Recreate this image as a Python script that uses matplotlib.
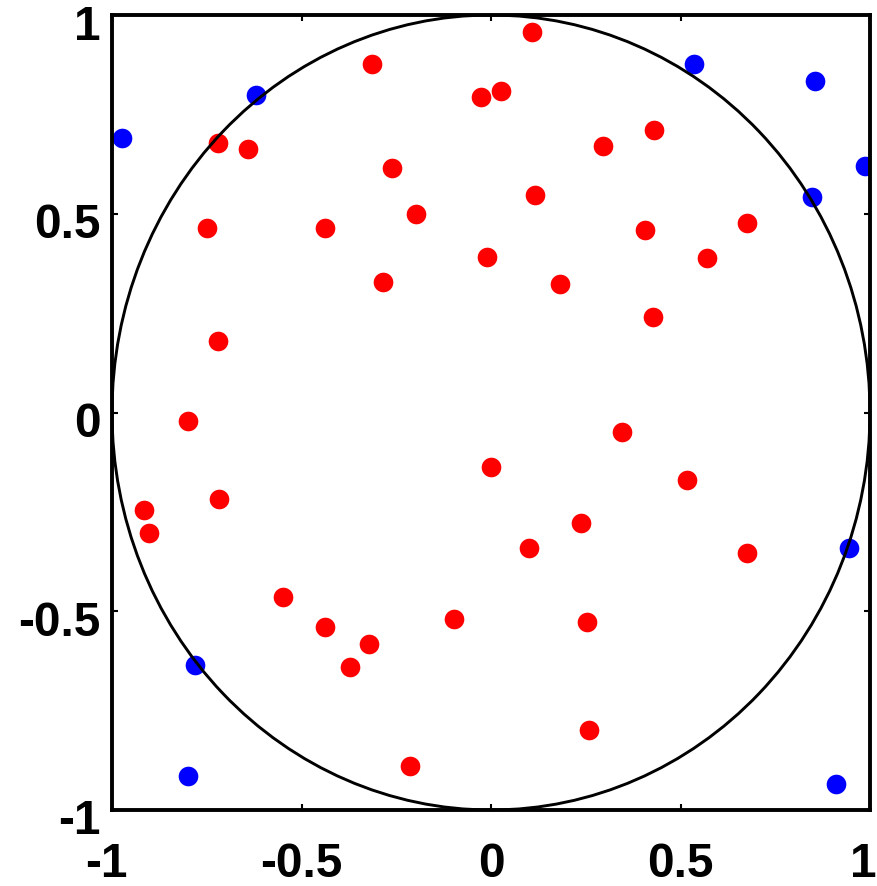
import matplotlib
matplotlib.use("Agg")
import matplotlib.pyplot as plt
import matplotlib.patches as mpatches
import matplotlib.transforms as mtransforms

plt.rcParams['font.family'] = ['Liberation Sans', 'DejaVu Sans']
plt.rcParams['axes.unicode_minus'] = False

# points inside the unit circle
inside_x = [0.107, -0.314, -0.026, 0.026, -0.720, -0.642, 0.430, 0.295, -0.261, 0.116,
            -0.198, -0.749, -0.437, 0.406, 0.675, -0.011, 0.569, -0.286, 0.182, 0.428,
            -0.720, -0.799, 0.346, 0.000, 0.516, -0.718, -0.916, -0.902, 0.237, 0.101,
            0.675, -0.550, -0.437, -0.098, -0.321, -0.371, 0.253, 0.259, -0.213]
inside_y = [0.956, 0.876, 0.794, 0.810, 0.677, 0.663, 0.711, 0.671, 0.614, 0.547,
            0.499, 0.465, 0.465, 0.459, 0.476, 0.391, 0.389, 0.329, 0.323, 0.241,
            0.180, -0.021, -0.048, -0.138, -0.169, -0.218, -0.245, -0.303, -0.279, -0.342,
            -0.353, -0.463, -0.540, -0.519, -0.582, -0.641, -0.526, -0.798, -0.889]

# points outside the unit circle
outside_x = [-0.974, -0.620, 0.536, 0.855, 0.846, 0.987, 0.945, -0.782, -0.799, 0.910]
outside_y = [0.691, 0.799, 0.876, 0.834, 0.543, 0.621, -0.342, -0.635, -0.915, -0.935]

ticks = [-1, -0.5, 0, 0.5, 1]
tick_labels = ['-1', '-0.5', '0', '0.5', '1']

fig = plt.figure(figsize=(8.77, 8.87), dpi=100)
ax = fig.add_axes([112 / 877, 1 - 811 / 887, 758 / 877, 795 / 887])

ax.scatter(inside_x, inside_y, s=200, color='#ff0000', linewidths=0, zorder=2)
ax.scatter(outside_x, outside_y, s=200, color='#0000ff', linewidths=0, zorder=2)

circle = mpatches.Circle((0, 0), 1, fill=False, edgecolor='black', linewidth=2.1, zorder=3)
ax.add_patch(circle)

ax.set_xlim(-1, 1)
ax.set_ylim(-1, 1)
ax.set_xticks(ticks)
ax.set_yticks(ticks)
ax.set_xticklabels(tick_labels, fontsize=34.5, fontweight='bold')
ax.set_yticklabels(tick_labels, fontsize=34.5, fontweight='bold')
ax.tick_params(axis='both', direction='in', length=4, width=1.5,
               top=True, right=True)
ax.tick_params(axis='x', pad=22)
ax.tick_params(axis='y', pad=8)

# y labels sit a little below their ticks in the original
offset = mtransforms.ScaledTranslation(0, -6 / 100, fig.dpi_scale_trans)
for lab in ax.get_yticklabels():
    lab.set_transform(lab.get_transform() + offset)

# end x labels: first a bit left, last pulled in from the edge
xlabs = ax.get_xticklabels()
xlabs[0].set_transform(xlabs[0].get_transform()
                       + mtransforms.ScaledTranslation(-6 / 100, 0, fig.dpi_scale_trans))
xlabs[-1].set_transform(xlabs[-1].get_transform()
                        + mtransforms.ScaledTranslation(-7 / 100, 0, fig.dpi_scale_trans))

for sp in ax.spines.values():
    sp.set_linewidth(2.8)

fig.savefig('out.png', dpi=100)
